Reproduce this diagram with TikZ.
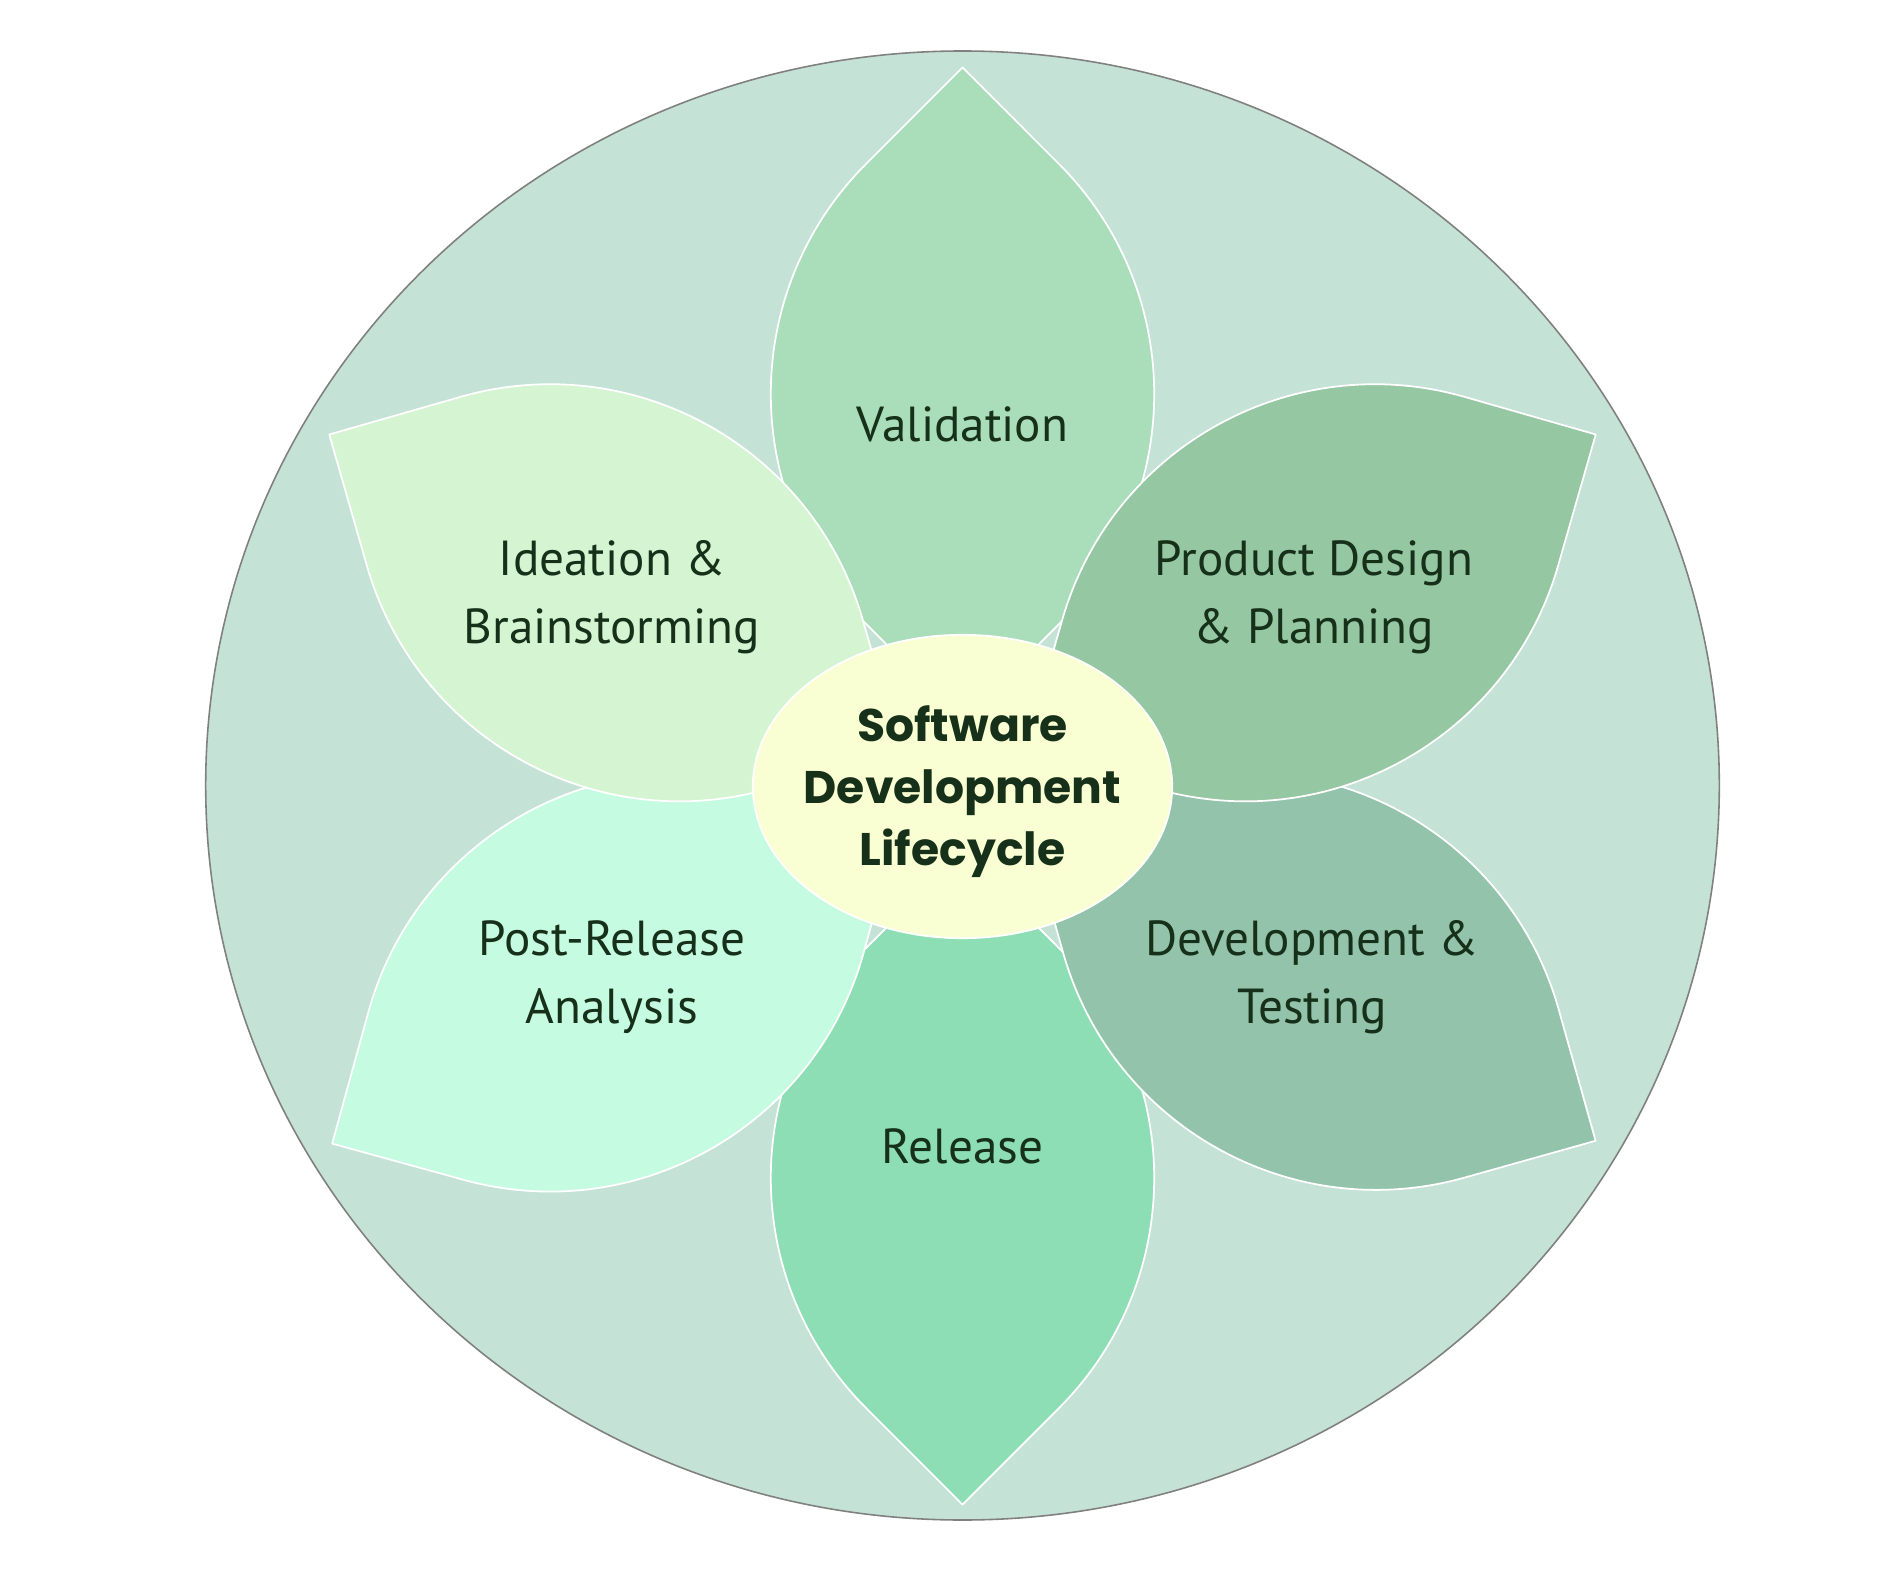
\documentclass[tikz,border=0pt]{standalone}
\usepackage{fontspec}
\setmainfont{PT Sans}
\newfontfamily\hubfont{Poppins}

\definecolor{ink}{HTML}{16301A}
\definecolor{disc}{HTML}{C5E2D7}
\definecolor{hubfill}{HTML}{FAFFD3}
\definecolor{valid}{HTML}{AADDB9}
\definecolor{design}{HTML}{95C7A2}
\definecolor{devtest}{HTML}{93C4AB}
\definecolor{release}{HTML}{8EDEB5}
\definecolor{postrel}{HTML}{C5FBE1}
\definecolor{idea}{HTML}{D5F5D2}

\begin{document}
\begin{tikzpicture}[line join=round,
        petal/.style={draw=white,line width=0.5pt},
        phase/.style={text=ink,align=center,font=\fontsize{14}{19.4}\selectfont}]
    \useasboundingbox (-9.625,-7.905) rectangle (9.175,7.855);
    \draw[black!50,line width=0.45pt,fill=disc] (0,0) ellipse [x radius=7.568,y radius=7.345];
    % petals: sharp tip out, sharp tip in, rounded sides
    \foreach \ang/\sh/\col in {90/0/valid,270/0.01/release,209.6/0.07/postrel,-29.3/0.08/devtest,
                               151/0.06/idea,29/0.06/design}{
        \begin{scope}[rotate=\ang-90,yshift=\sh cm]
            \draw[petal,fill=\col] (0,7.18) -- (-0.964,6.216)
                arc[start angle=135,end angle=225,radius=3.254] -- (0,0.65) -- (0.964,1.614)
                arc[start angle=-45,end angle=45,radius=3.254] -- cycle;
        \end{scope}
    }
    \draw[petal,fill=hubfill] (0,-0.01) ellipse [x radius=2.097,y radius=1.517];
    \node[text=ink,align=center,font=\hubfont\bfseries\fontsize{13}{17.6}\selectfont]
        (hub) at (0,-0.06) {Software\\Development\\Lifecycle};
    \node[phase] (valid) at (0,3.608) {Validation};
    \node[phase] (design) at (3.514,1.885) {Product Design\\\& Planning};
    \node[phase] (devtest) at (3.495,-1.915) {Development \&\\Testing};
    \node[phase] (release) at (0,-3.61) {Release};
    \node[phase] (postrel) at (-3.506,-1.915) {Post-Release\\Analysis};
    \node[phase] (idea) at (-3.505,1.885) {Ideation \&\\Brainstorming};
\end{tikzpicture}
\end{document}
